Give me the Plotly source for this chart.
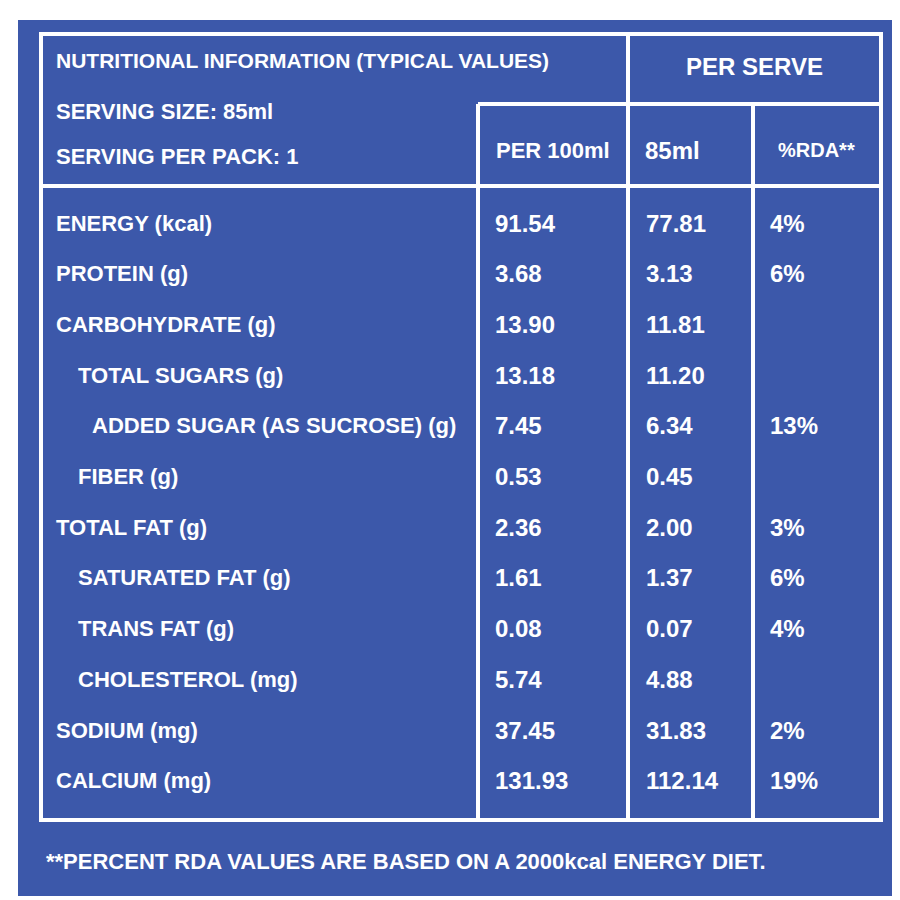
import plotly.graph_objects as go

nutrients = ["ENERGY (kcal)", "PROTEIN (g)", "CARBOHYDRATE (g)", "TOTAL SUGARS (g)",
             "ADDED SUGAR (AS SUCROSE) (g)", "FIBER (g)", "TOTAL FAT (g)", "SATURATED FAT (g)",
             "TRANS FAT (g)", "CHOLESTEROL (mg)", "SODIUM (mg)", "CALCIUM (mg)"]
indent = [0, 0, 0, 1, 2, 1, 0, 1, 1, 1, 0, 0]
per100 = ["91.54", "3.68", "13.90", "13.18", "7.45", "0.53", "2.36", "1.61", "0.08", "5.74", "37.45", "131.93"]
per85 = ["77.81", "3.13", "11.81", "11.20", "6.34", "0.45", "2.00", "1.37", "0.07", "4.88", "31.83", "112.14"]
rda = ["4%", "6%", "", "", "13%", "", "3%", "6%", "4%", "", "2%", "19%"]

BLUE = "#3c58aa"
FONT = "Liberation Sans, Arial, sans-serif"
fig = go.Figure()
fig.add_trace(go.Scatter(x=[0, 900], y=[0, 900], mode="markers", marker=dict(opacity=0), hoverinfo="skip"))

shapes = [dict(type="rect", x0=10, x1=890, y0=12, y1=888, fillcolor=BLUE, line=dict(width=0), layer="below")]
lw = dict(color="white", width=4)
shapes.append(dict(type="rect", x0=33, x1=873, y0=26, y1=812, line=lw))
for seg in [(620, 26, 620, 812), (470, 96, 470, 812), (745, 96, 745, 812),
            (470, 96, 873, 96), (33, 178, 873, 178)]:
    shapes.append(dict(type="line", x0=seg[0], y0=seg[1], x1=seg[2], y1=seg[3], line=lw))

ann = []
def t(x, y, s, anchor="left", size=22):
    ann.append(dict(x=x, y=y, text=s, showarrow=False, xanchor=anchor, yanchor="middle",
                    font=dict(family=FONT, size=size, color="white")))

t(46, 52, "<b>NUTRITIONAL INFORMATION (TYPICAL VALUES)</b>", size=21)
t(46, 103, "<b>SERVING SIZE: 85ml</b>", size=22)
t(46, 148, "<b>SERVING PER PACK: 1</b>", size=22)
t(746, 58, "<b>PER SERVE</b>", anchor="center", size=24)
t(545, 142, "<b>PER 100ml</b>", anchor="center", size=22)
t(635, 142, "<b>85ml</b>", size=24)
t(808, 142, "<b>%RDA**</b>", anchor="center", size=20)

row_y0, row_dy = 215, 50.7
offs = [0, 22, 36]
for i, n in enumerate(nutrients):
    y = row_y0 + i * row_dy
    t(46 + offs[indent[i]], y, "<b>" + n + "</b>")
    t(485, y, "<b>" + per100[i] + "</b>", size=24)
    t(636, y, "<b>" + per85[i] + "</b>", size=24)
    if rda[i]:
        t(760, y, "<b>" + rda[i] + "</b>", size=24)
t(36, 853, "<b>**PERCENT RDA VALUES ARE BASED ON A 2000kcal ENERGY DIET.</b>", size=22)

fig.update_layout(width=900, height=900, margin=dict(l=0, r=0, t=0, b=0),
                  plot_bgcolor="white", paper_bgcolor="white", showlegend=False,
                  shapes=shapes, annotations=ann,
                  xaxis=dict(range=[0, 900], visible=False, fixedrange=True),
                  yaxis=dict(range=[900, 0], visible=False, fixedrange=True))
fig.write_html("out.html")
